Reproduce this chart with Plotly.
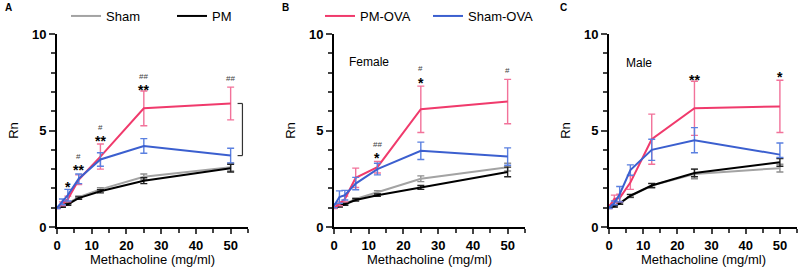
import plotly.graph_objects as go

# ---------------- data ----------------
doses = [0, 1.5625, 3.125, 6.25, 12.5, 25, 50]

# Panel A (all)
a_sham = [1.0, 1.08, 1.22, 1.55, 1.95, 2.6, 3.1]
a_sham_err = [0.03, 0.04, 0.05, 0.06, 0.08, 0.15, 0.2]
a_pm = [1.0, 1.06, 1.18, 1.5, 1.85, 2.4, 3.05]
a_pm_err = [0.03, 0.04, 0.05, 0.06, 0.08, 0.15, 0.2]
a_pm_ova = [1.0, 1.2, 1.45, 2.45, 3.65, 6.15, 6.4]
a_pm_ova_err = [0.05, 0.1, 0.15, 0.25, 0.65, 0.9, 0.85]
a_sham_ova = [1.0, 1.3, 1.65, 2.5, 3.5, 4.2, 3.7]
a_sham_ova_err = [0.05, 0.15, 0.3, 0.25, 0.35, 0.38, 0.38]

# Panel B (female)
b_sham = [1.0, 1.1, 1.2, 1.45, 1.8, 2.5, 3.1]
b_sham_err = [0.03, 0.04, 0.05, 0.06, 0.08, 0.15, 0.2]
b_pm = [1.0, 1.08, 1.18, 1.4, 1.65, 2.05, 2.85]
b_pm_err = [0.03, 0.04, 0.05, 0.06, 0.06, 0.1, 0.25]
b_pm_ova = [1.0, 1.2, 1.45, 2.55, 3.1, 6.1, 6.5]
b_pm_ova_err = [0.05, 0.1, 0.15, 0.5, 0.3, 1.2, 1.15]
b_sham_ova = [1.1, 1.55, 1.65, 2.25, 3.0, 3.95, 3.65]
b_sham_ova_err = [0.1, 0.32, 0.25, 0.32, 0.3, 0.45, 0.45]

# Panel C (male)
c_sham = [1.0, 1.08, 1.25, 1.6, 2.15, 2.75, 3.05]
c_sham_err = [0.03, 0.04, 0.06, 0.08, 0.12, 0.25, 0.2]
c_pm = [1.0, 1.08, 1.22, 1.62, 2.15, 2.8, 3.35]
c_pm_err = [0.03, 0.04, 0.05, 0.07, 0.1, 0.2, 0.2]
c_pm_ova = [1.05, 1.45, 1.5, 2.3, 4.55, 6.15, 6.25]
c_pm_ova_err = [0.1, 0.2, 0.2, 0.35, 1.3, 1.4, 1.35]
c_sham_ova = [1.0, 1.25, 1.7, 2.95, 4.0, 4.5, 3.75]
c_sham_ova_err_plus = [0.05, 0.1, 0.4, 0.27, 0.55, 0.65, 0.6]
c_sham_ova_err_minus = [0.05, 0.1, 0.4, 0.27, 0.55, 0.65, 0.15]

# significance marks
a_star_x = [3.125, 6.25, 12.5, 25]
a_star_y = [2.26, 3.14, 4.64, 7.3]
a_star_text = ["*", "**", "**", "**"]
a_hash_x = [6.25, 12.5, 25, 50]
a_hash_y = [3.55, 5.05, 7.7, 7.6]
a_hash_text = ["#", "#", "##", "##"]
b_star_x = [12.5, 25]
b_star_y = [3.75, 7.65]
b_star_text = ["*", "*"]
b_hash_x = [12.5, 25, 50]
b_hash_y = [4.2, 8.1, 8.0]
b_hash_text = ["##", "#", "#"]
c_star_x = [25, 50]
c_star_y = [7.8, 7.95]
c_star_text = ["**", "*"]

group_names = ["Sham", "PM", "PM-OVA", "Sham-OVA"]
panel_labels = ["A", "B", "C"]
panel_notes = ["", "Female", "Male"]
x_title = "Methacholine (mg/ml)"
y_title = "Rn"

# ---------------- style ----------------
FONT = "Liberation Sans, Arial, sans-serif"
line_colors = {"Sham": "#a3a3a3", "PM": "#000000", "PM-OVA": "#f03a6c", "Sham-OVA": "#3b5fcf"}
err_colors = {"Sham": "#8f8f8f", "PM": "#222222", "PM-OVA": "#f2729a", "Sham-OVA": "#5b80e0"}
legend_of = {"Sham": "legend", "PM": "legend2", "PM-OVA": "legend3", "Sham-OVA": "legend4"}
legend_x_px = {"legend": 66, "legend2": 172, "legend3": 320, "legend4": 428}

panels = [
    {"Sham": (a_sham, a_sham_err, None), "PM": (a_pm, a_pm_err, None),
     "PM-OVA": (a_pm_ova, a_pm_ova_err, None), "Sham-OVA": (a_sham_ova, a_sham_ova_err, None)},
    {"Sham": (b_sham, b_sham_err, None), "PM": (b_pm, b_pm_err, None),
     "PM-OVA": (b_pm_ova, b_pm_ova_err, None), "Sham-OVA": (b_sham_ova, b_sham_ova_err, None)},
    {"Sham": (c_sham, c_sham_err, None), "PM": (c_pm, c_pm_err, None),
     "PM-OVA": (c_pm_ova, c_pm_ova_err, None),
     "Sham-OVA": (c_sham_ova, c_sham_ova_err_plus, c_sham_ova_err_minus)},
]

fig = go.Figure()
for i, pdata in enumerate(panels):
    sfx = "" if i == 0 else str(i + 1)
    for g in group_names:
        mean, ep, em = pdata[g]
        err = dict(type="data", array=ep, visible=True, color=err_colors[g],
                   thickness=1.4, width=3.5)
        if em is not None:
            err["symmetric"] = False
            err["arrayminus"] = em
        fig.add_trace(go.Scatter(
            x=doses, y=mean, mode="lines", name=g,
            line=dict(color=line_colors[g], width=2),
            error_y=err, xaxis="x" + sfx, yaxis="y" + sfx,
            legend=legend_of[g],
            showlegend=(i == 0),
        ))

x_domains = [[57 / 800, 248 / 800], [334 / 800, 525 / 800], [609 / 800, 797 / 800]]
y_domain = [1 - 227 / 274, 1 - 34 / 274]

layout = dict(
    width=800, height=274, margin=dict(l=0, r=0, t=0, b=0, autoexpand=False),
    paper_bgcolor="white", plot_bgcolor="white",
    font=dict(family=FONT, color="black", size=13),
)
for i in range(3):
    sfx = "" if i == 0 else str(i + 1)
    layout["xaxis" + sfx] = dict(
        domain=x_domains[i], anchor="y" + sfx, range=[0, 55],
        tick0=0, dtick=10, ticks="outside", ticklen=5, tickwidth=2,
        showline=True, linewidth=2, linecolor="black", mirror=False,
        showgrid=False, zeroline=False,
        minor=dict(dtick=5, tick0=0, ticks="outside", ticklen=4, tickwidth=2, showgrid=False),
        tickfont=dict(family=FONT, size=13, color="black", weight="bold"),
    )
    layout["yaxis" + sfx] = dict(
        domain=y_domain, anchor="x" + sfx, range=[0, 10],
        tick0=0, dtick=5, ticks="outside", ticklen=6, tickwidth=2,
        showline=True, linewidth=2, linecolor="black",
        showgrid=False, zeroline=False,
        minor=dict(dtick=1, tick0=0, ticks="outside", ticklen=4, tickwidth=2, showgrid=False),
        tickfont=dict(family=FONT, size=13, color="black", weight="bold"),
        title=dict(text=y_title, font=dict(family=FONT, size=13), standoff=10),
    )

for lg, px in legend_x_px.items():
    layout[lg] = dict(orientation="h", x=px / 800, y=1 - 16 / 274, xanchor="left", yanchor="middle",
                      bgcolor="rgba(0,0,0,0)", font=dict(family=FONT, size=13), itemwidth=30)
fig.update_layout(**layout)

# x-axis titles
for i in range(3):
    sfx = "" if i == 0 else str(i + 1)
    fig.add_annotation(x=0.5, y=1 - 259 / 274, xref="x" + sfx + " domain", yref="paper",
                       text=x_title, showarrow=False, xanchor="center", yanchor="middle",
                       borderpad=0, font=dict(family=FONT, size=13))

# significance annotations
def add_marks(xs, ys, texts, sfx, size, color, bold, shift):
    for x, y, t in zip(xs, ys, texts):
        fig.add_annotation(x=x, y=y + shift, text=t, xref="x" + sfx, yref="y" + sfx,
                           showarrow=False, xanchor="center", yanchor="middle", borderpad=0,
                           font=dict(family=FONT, size=size, color=color,
                                     weight="bold" if bold else "normal"))

add_marks(a_star_x, a_star_y, a_star_text, "", 14, "black", True, -0.2)
add_marks(a_hash_x, a_hash_y, a_hash_text, "", 8, "#444444", False, 0.1)
add_marks(b_star_x, b_star_y, b_star_text, "2", 14, "black", True, -0.2)
add_marks(b_hash_x, b_hash_y, b_hash_text, "2", 8, "#444444", False, 0.1)
add_marks(c_star_x, c_star_y, c_star_text, "3", 14, "black", True, -0.2)

# bracket in panel A
br_x0, br_x1 = 52.0, 53.4
br_top, br_bot = a_pm_ova[-1], a_sham_ova[-1]
for (x0, y0, x1, y1) in [(br_x1, br_bot, br_x1, br_top), (br_x0, br_top, br_x1, br_top),
                         (br_x0, br_bot, br_x1, br_bot)]:
    fig.add_shape(type="line", x0=x0, y0=y0, x1=x1, y1=y1, xref="x", yref="y",
                  line=dict(color="#333333", width=1.2))
fig.add_annotation(x=56, y=4.85, text="^", xref="x", yref="y", showarrow=False,
                   font=dict(family=FONT, size=9, color="#333333"))

# panel letters
letter_x = [8, 285, 563]
for lx, lab in zip(letter_x, panel_labels):
    fig.add_annotation(x=lx / 800, y=1 - 8 / 274, xref="paper", yref="paper", text=lab,
                       showarrow=False, xanchor="center", yanchor="middle",
                       font=dict(family=FONT, size=10, weight="bold"))

# sex notes
note_pos = [None, (369, 62), (639, 63)]
for pos, note in zip(note_pos, panel_notes):
    if pos is None:
        continue
    fig.add_annotation(x=pos[0] / 800, y=1 - pos[1] / 274, xref="paper", yref="paper", text=note,
                       showarrow=False, xanchor="center", yanchor="middle",
                       font=dict(family=FONT, size=12))

fig.write_html("out.html", config={"displayModeBar": False},
               post_script="document.body.style.margin='0';")
